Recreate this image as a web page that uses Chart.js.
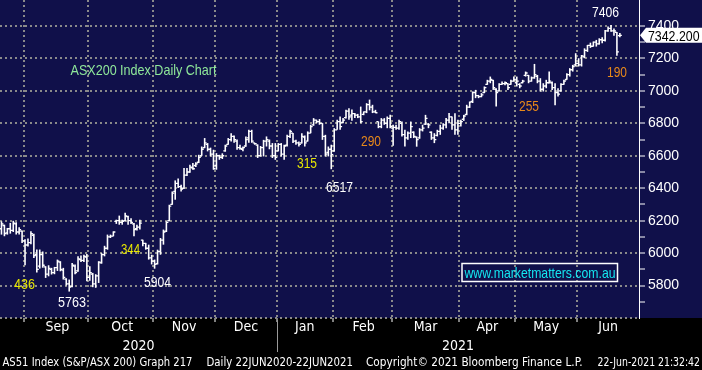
<!DOCTYPE html>
<html>
<head>
<meta charset="utf-8">
<script src="https://cdn.jsdelivr.net/npm/chart.js@4.4.1/dist/chart.umd.min.js"></script>
<style>
  html, body { margin: 0; padding: 0; background: #000; }
  #wrap { width: 702px; height: 370px; }
</style>
</head>
<body>
<div id="wrap"><canvas id="ohlcCanvas"></canvas></div>
<script>
// trading days shown, plus a few empty slots after the last bar
const dates = [
  "2020-08-20","2020-08-21","2020-08-24","2020-08-25","2020-08-26","2020-08-27","2020-08-28","2020-08-31",
  "2020-09-01","2020-09-02","2020-09-03","2020-09-04","2020-09-07","2020-09-08","2020-09-09","2020-09-10","2020-09-11",
  "2020-09-14","2020-09-15","2020-09-16","2020-09-17","2020-09-18","2020-09-21","2020-09-22","2020-09-23","2020-09-24",
  "2020-09-25","2020-09-28","2020-09-29","2020-09-30",
  "2020-10-01","2020-10-02","2020-10-05","2020-10-06","2020-10-07","2020-10-08","2020-10-09","2020-10-12","2020-10-13",
  "2020-10-14","2020-10-15","2020-10-16","2020-10-19","2020-10-20","2020-10-21","2020-10-22","2020-10-23","2020-10-26",
  "2020-10-27","2020-10-28","2020-10-29","2020-10-30",
  "2020-11-02","2020-11-03","2020-11-04","2020-11-05","2020-11-06","2020-11-09","2020-11-10","2020-11-11","2020-11-12",
  "2020-11-13","2020-11-16","2020-11-17","2020-11-18","2020-11-19","2020-11-20","2020-11-23","2020-11-24","2020-11-25",
  "2020-11-26","2020-11-27","2020-11-30",
  "2020-12-01","2020-12-02","2020-12-03","2020-12-04","2020-12-07","2020-12-08","2020-12-09","2020-12-10","2020-12-11",
  "2020-12-14","2020-12-15","2020-12-16","2020-12-17","2020-12-18","2020-12-21","2020-12-22","2020-12-23","2020-12-24",
  "2020-12-29","2020-12-30","2020-12-31",
  "2021-01-04","2021-01-05","2021-01-06","2021-01-07","2021-01-08","2021-01-11","2021-01-12","2021-01-13","2021-01-14",
  "2021-01-15","2021-01-18","2021-01-19","2021-01-20","2021-01-21","2021-01-22","2021-01-25","2021-01-27","2021-01-28",
  "2021-01-29",
  "2021-02-01","2021-02-02","2021-02-03","2021-02-04","2021-02-05","2021-02-08","2021-02-09","2021-02-10","2021-02-11",
  "2021-02-12","2021-02-15","2021-02-16","2021-02-17","2021-02-18","2021-02-19","2021-02-22","2021-02-23","2021-02-24",
  "2021-02-25","2021-02-26",
  "2021-03-01","2021-03-02","2021-03-03","2021-03-04","2021-03-05","2021-03-08","2021-03-09","2021-03-10","2021-03-11",
  "2021-03-12","2021-03-15","2021-03-16","2021-03-17","2021-03-18","2021-03-19","2021-03-22","2021-03-23","2021-03-24",
  "2021-03-25","2021-03-26","2021-03-29","2021-03-30","2021-03-31",
  "2021-04-01","2021-04-06","2021-04-07","2021-04-08","2021-04-09","2021-04-12","2021-04-13","2021-04-14","2021-04-15",
  "2021-04-16","2021-04-19","2021-04-20","2021-04-21","2021-04-22","2021-04-23","2021-04-27","2021-04-28","2021-04-29",
  "2021-04-30",
  "2021-05-03","2021-05-04","2021-05-05","2021-05-06","2021-05-07","2021-05-10","2021-05-11","2021-05-12","2021-05-13",
  "2021-05-14","2021-05-17","2021-05-18","2021-05-19","2021-05-20","2021-05-21","2021-05-24","2021-05-25","2021-05-26",
  "2021-05-27","2021-05-28","2021-05-31",
  "2021-06-01","2021-06-02","2021-06-03","2021-06-04","2021-06-07","2021-06-08","2021-06-09","2021-06-10","2021-06-11",
  "2021-06-15","2021-06-16","2021-06-17","2021-06-18","2021-06-21","2021-06-22",
  "2021-06-23","2021-06-24","2021-06-25","2021-06-28","2021-06-29","2021-06-30"
];

const open = [
  6150,6170,6125,6150,6140,6180,6130,6135,
  6075,6050,6065,6110,5990,5920,5990,5915,5870,5900,5880,5910,5945,5895,5840,5810,5795,5920,5890,5960,5955,5975,
  5850,5870,5810,5860,5940,5990,6030,6100,6105,6196,6200,6190,6200,6225,6200,6180,6150,6160,6080,6060,6030,5970,
  5950,5935,6010,6080,6135,6200,6300,6380,6430,6410,6400,6480,6500,6525,6540,6560,6600,6650,6670,6640,6610,
  6540,6600,6590,6630,6670,6700,6720,6690,6650,6640,6660,6710,6750,6680,6665,6600,6650,6690,6690,6660,6600,
  6630,6670,6610,6665,6720,6740,6690,6680,6680,6715,6690,6740,6790,6820,6810,6800,6720,6620,6640,
  6630,6760,6810,6805,6835,6875,6850,6860,6850,6840,6855,6870,6915,6900,6870,6810,6780,6820,6800,6830,
  6770,6775,6770,6800,6730,6710,6740,6745,6715,6710,6760,6795,6795,6745,6710,6725,6750,6770,6790,6820,6840,6790,6760,
  6800,6825,6855,6900,6935,6990,6970,6965,6990,7040,7060,7065,7010,7000,7040,7045,7045,7040,7060,
  7050,7040,7050,7095,7095,7060,7080,7090,7060,7010,7030,7050,7050,7020,6990,7000,7040,7070,7100,7130,7160,
  7170,7160,7210,7250,7280,7275,7300,7290,7315,7312,7370,7385,7370,7360,7340
];
const high = [
  6196,6175,6155,6186,6199,6190,6160,6140,
  6085,6090,6134,6120,6022,6022,6010,5919,5925,5909,5915,5960,5950,5909,5845,5837,5939,5930,5980,5985,5990,5995,
  5919,5878,5870,5950,6000,6045,6114,6114,6134,6206,6231,6206,6248,6230,6215,6186,6175,6206,6083,6063,6052,5990,
  5960,6021,6093,6145,6196,6298,6380,6448,6460,6421,6524,6524,6545,6555,6560,6606,6657,6709,6678,6650,6637,
  6616,6606,6615,6668,6709,6739,6725,6700,6668,6657,6719,6760,6760,6680,6670,6660,6698,6719,6700,6678,6678,
  6678,6678,6668,6729,6760,6740,6698,6688,6739,6725,6750,6791,6832,6822,6826,6801,6729,6657,6668,
  6770,6822,6842,6832,6883,6893,6885,6863,6858,6903,6873,6924,6946,6914,6883,6811,6832,6832,6842,6852,
  6791,6791,6822,6811,6760,6750,6811,6750,6719,6770,6791,6852,6801,6750,6739,6760,6791,6801,6832,6863,6842,6862,6822,
  6822,6852,6914,6934,6996,7006,6975,6986,7027,7068,7088,7068,7016,7047,7057,7057,7047,7068,7088,
  7088,7047,7068,7119,7098,7088,7166,7098,7078,7047,7068,7120,7057,7047,7016,7047,7068,7109,7140,7160,7232,
  7201,7221,7262,7283,7297,7304,7314,7324,7330,7375,7396,7406,7385,7363,7357
];
const low = [
  6114,6104,6114,6120,6130,6114,6114,6063,
  5925,6040,6055,5970,5880,5905,5910,5847,5857,5868,5870,5890,5888,5837,5800,5763,5790,5870,5885,5945,5945,5827,
  5830,5790,5786,5816,5935,5980,6021,6093,6104,6180,6175,6175,6196,6175,6180,6104,6140,6145,6042,6021,5960,5930,
  5904,5930,5990,6052,6130,6196,6298,6329,6401,6380,6395,6475,6495,6514,6530,6555,6600,6647,6627,6596,6514,
  6514,6575,6580,6625,6668,6688,6680,6637,6637,6627,6655,6680,6680,6668,6586,6596,6596,6657,6640,6586,6575,
  6627,6596,6575,6657,6709,6678,6668,6657,6675,6657,6688,6739,6785,6801,6791,6698,6596,6596,6517,
  6625,6760,6760,6800,6830,6822,6815,6832,6832,6801,6850,6863,6880,6863,6863,6770,6770,6791,6770,6770,
  6662,6760,6760,6719,6657,6698,6709,6709,6656,6705,6750,6790,6770,6698,6678,6719,6729,6760,6770,6801,6760,6729,6729,
  6780,6815,6850,6895,6925,6955,6955,6961,6986,7037,7047,7006,6904,6996,7037,7035,7006,7037,7057,
  7027,7016,7047,7088,7047,7057,7075,7047,6996,6996,7016,7045,7006,6911,6965,6996,7037,7068,7088,7119,7150,
  7150,7150,7201,7240,7265,7273,7273,7285,7293,7304,7365,7365,7340,7216,7330
];
const close = [
  6180,6120,6150,6140,6185,6130,6145,6075,
  6050,6065,6120,5985,5900,5990,5925,5870,5905,5880,5910,5950,5900,5850,5810,5790,5925,5880,5965,5955,5980,5850,
  5880,5810,5860,5945,5990,6030,6100,6105,6130,6200,6190,6195,6230,6200,6190,6145,6160,6185,6060,6030,5970,5950,
  5930,6010,6080,6130,6190,6290,6370,6430,6410,6395,6480,6500,6530,6520,6550,6590,6640,6680,6640,6610,6520,
  6600,6590,6600,6660,6700,6720,6700,6650,6645,6650,6700,6750,6690,6675,6600,6650,6690,6700,6660,6600,6590,
  6670,6610,6660,6720,6750,6690,6680,6670,6720,6680,6740,6780,6820,6810,6800,6720,6610,6640,6607,
  6760,6810,6780,6820,6875,6840,6860,6850,6840,6810,6870,6915,6900,6870,6865,6780,6820,6800,6830,6780,
  6775,6770,6810,6730,6710,6740,6780,6720,6700,6760,6770,6830,6790,6710,6700,6750,6770,6790,6820,6840,6790,6760,6800,
  6810,6845,6900,6930,6990,6970,6965,6975,7020,7060,7070,7020,6990,7040,7045,7050,7020,7060,7070,
  7060,7030,7060,7110,7060,7080,7100,7060,7010,7030,7050,7060,7020,6990,6980,7040,7060,7100,7130,7150,7170,
  7160,7215,7250,7280,7275,7300,7290,7315,7312,7370,7385,7370,7370,7240,7342.2
];

const yTicks = [5800, 6000, 6200, 6400, 6600, 6800, 7000, 7200, 7400];
const monthNames = ["Jan","Feb","Mar","Apr","May","Jun","Jul","Aug","Sep","Oct","Nov","Dec"];

// month boundaries and label slots, from the dates
const monthStart = new Set();
const monthLabel = {};
let segStart = 0;
for (let i = 1; i <= dates.length; i++) {
  if (i === dates.length || dates[i].slice(0, 7) !== dates[i - 1].slice(0, 7)) {
    if (i < dates.length) monthStart.add(i);
    if (i - segStart > 10) {
      monthLabel[Math.round((segStart + i - 1) / 2)] = monthNames[+dates[segStart].slice(5, 7) - 1];
    }
    segStart = i;
  }
}
const yearStart = dates.findIndex(d => d.startsWith("2021"));

const notes = [
  {t: "7406", x: 592, w: 27, y: 17, c: "#ffffff"},
  {t: "190", x: 607, w: 20, y: 77, c: "#e8891a"},
  {t: "255", x: 519, w: 20, y: 111, c: "#e8891a"},
  {t: "290", x: 361, w: 20, y: 146, c: "#e8891a"},
  {t: "315", x: 297, w: 20, y: 168, c: "#e6e600"},
  {t: "6517", x: 326, w: 27, y: 192, c: "#ffffff"},
  {t: "344", x: 121, w: 19, y: 254, c: "#e6e600"},
  {t: "5904", x: 144, w: 27, y: 287, c: "#ffffff"},
  {t: "436", x: 14, w: 21, y: 289, c: "#e6e600"},
  {t: "5763", x: 58, w: 28, y: 307, c: "#ffffff"}
];

const gridGrey = "#8a8a8a";
const sans = "'Liberation Sans', Arial, sans-serif";
const narrow = "'Liberation Sans Narrow', 'DejaVu Sans Condensed', 'Liberation Sans', sans-serif";

function fitText(ctx, txt, x, y, w) {
  const m = ctx.measureText(txt).width;
  ctx.save();
  ctx.translate(x, y);
  ctx.scale(w / m, 1);
  ctx.textAlign = "left";
  ctx.fillText(txt, 0, 0);
  ctx.restore();
}

const backdrop = {
  id: "backdrop",
  beforeDraw(chart) {
    const {ctx, chartArea, width, height} = chart;
    ctx.save();
    ctx.fillStyle = "#000000";
    ctx.fillRect(0, 0, width, height);
    ctx.fillStyle = "#10104a";
    ctx.fillRect(0, 0, width, chartArea.bottom);
    ctx.restore();
  }
};

// open tick to the left, close tick to the right of each high-low bar
const ohlcTicks = {
  id: "ohlcTicks",
  afterDatasetsDraw(chart) {
    const {ctx} = chart;
    const xs = chart.scales.x, ys = chart.scales.y;
    ctx.save();
    ctx.strokeStyle = "#ffffff";
    ctx.lineWidth = 1.3;
    ctx.beginPath();
    close.forEach((c, i) => {
      const x = xs.getPixelForValue(i);
      const yo = ys.getPixelForValue(open[i]);
      const yc = ys.getPixelForValue(c);
      ctx.moveTo(x - 2, yo);
      ctx.lineTo(x, yo);
      ctx.moveTo(x, yc);
      ctx.lineTo(x + 2, yc);
    });
    ctx.stroke();
    ctx.restore();
  }
};

const extras = {
  id: "extras",
  afterDraw(chart) {
    const {ctx, chartArea} = chart;
    const xs = chart.scales.x, ys = chart.scales.y;
    const step = xs.getPixelForValue(1) - xs.getPixelForValue(0);
    ctx.save();
    ctx.textBaseline = "alphabetic";

    // annotations
    ctx.font = "15px " + sans;
    notes.forEach(n => { ctx.fillStyle = n.c; fitText(ctx, n.t, n.x, n.y, n.w); });

    ctx.fillStyle = "#8fe89a";
    fitText(ctx, "ASX200 Index Daily Chart", 70.5, 75, 146);

    ctx.strokeStyle = "#ffffff";
    ctx.lineWidth = 1.5;
    ctx.strokeRect(462, 263.5, 155.5, 18);
    ctx.fillStyle = "#14e6f0";
    fitText(ctx, "www.marketmatters.com.au", 464.5, 278, 151);

    // last price box on the axis
    const last = close[close.length - 1];
    const py = ys.getPixelForValue(last);
    const ax = chartArea.right + 1;
    ctx.fillStyle = "#ffffff";
    ctx.beginPath();
    ctx.moveTo(ax, py);
    ctx.lineTo(ax + 6, py - 7.5);
    ctx.lineTo(702, py - 7.5);
    ctx.lineTo(702, py + 7.5);
    ctx.lineTo(ax + 6, py + 7.5);
    ctx.closePath();
    ctx.fill();
    ctx.fillStyle = "#000000";
    ctx.font = "15px " + sans;
    fitText(ctx, last.toFixed(3), ax + 8, py + 5.5, 51.5);

    // year row
    const leftEdge = xs.getPixelForValue(0) - step / 2;
    const sepX = xs.getPixelForValue(yearStart) - step / 2;
    ctx.fillStyle = "#ffffff";
    ctx.font = "14px " + narrow;
    ctx.textAlign = "center";
    ctx.fillText("2020", (leftEdge + sepX) / 2, 349.5);
    ctx.fillText("2021", (sepX + chartArea.right) / 2, 349.5);
    ctx.strokeStyle = "#9a9a9a";
    ctx.lineWidth = 1;
    ctx.beginPath();
    ctx.moveTo(Math.round(sepX) + 0.5, chartArea.bottom + 2);
    ctx.lineTo(Math.round(sepX) + 0.5, 352);
    ctx.stroke();

    // footer
    ctx.fillStyle = "#ffffff";
    ctx.font = "13px " + narrow;
    fitText(ctx, "AS51 Index (S&P/ASX 200) Graph 217", 2.5, 366, 190);
    fitText(ctx, "Daily 22JUN2020-22JUN2021", 206.5, 366, 146.5);
    fitText(ctx, "Copyright\u00a9 2021 Bloomberg Finance L.P.", 366, 366, 216.5);
    fitText(ctx, "22-Jun-2021 21:32:42", 597.5, 366, 102.5);
    ctx.restore();
  }
};

const barCanvas = document.getElementById("ohlcCanvas");
const ohlcChart = new Chart(barCanvas, {
  type: "bar",
  data: {
    labels: dates,
    datasets: [{
      data: high.map((h, i) => [low[i], h]),
      backgroundColor: "#ffffff",
      barThickness: 1.6,
      inflateAmount: 0
    }]
  },
  options: {
    responsive: true,
    maintainAspectRatio: false,
    animation: false,
    events: [],
    layout: {padding: 0},
    plugins: {legend: {display: false}, tooltip: {enabled: false}},
    scales: {
      x: {
        type: "category",
        offset: true,
        grid: {
          offset: true,
          lineWidth: 2,
          color: c => monthStart.has(c.index) ? gridGrey : "rgba(0,0,0,0)",
          tickColor: c => monthStart.has(c.index) ? "#ffffff" : "rgba(0,0,0,0)",
          tickLength: 4,
          tickWidth: 1
        },
        border: {display: false, dash: [2, 3]},
        ticks: {
          autoSkip: false,
          maxRotation: 0,
          minRotation: 0,
          padding: -3,
          color: "#ffffff",
          font: {family: narrow, size: 14},
          callback: (v, i) => monthLabel[i] || ""
        },
        afterFit: s => { s.height = 52; s.paddingLeft = 0; s.paddingRight = 0; }
      },
      y: {
        position: "right",
        min: 5600,
        max: 7560,
        grid: {
          lineWidth: 2,
          color: c => (c.tick && c.tick.value % 200 === 0 && c.tick.value < 7500) ? gridGrey : "rgba(0,0,0,0)",
          tickColor: c => (c.tick && c.tick.value % 100 === 0 && c.tick.value > 5600) ? "#ffffff" : "rgba(0,0,0,0)",
          tickLength: 6,
          tickWidth: 1
        },
        border: {display: true, color: "#ffffff", width: 1, dash: [2, 3]},
        ticks: {
          stepSize: 100,
          autoSkip: false,
          padding: 3,
          color: "#ffffff",
          font: {family: sans, size: 14},
          callback: v => yTicks.includes(v) ? String(v) : ""
        },
        afterFit: s => { s.width = 63; s.paddingTop = 0; s.paddingBottom = 0; }
      }
    }
  },
  plugins: [backdrop, ohlcTicks, extras]
});
</script>
</body>
</html>
